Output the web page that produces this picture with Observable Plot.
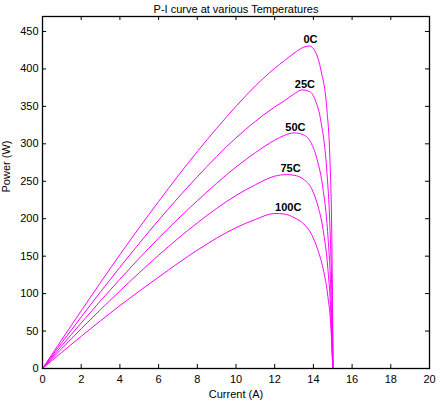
<!DOCTYPE html>
<html>
<head>
<meta charset="utf-8">
<script src="https://cdn.jsdelivr.net/npm/d3@7"></script>
<script src="https://cdn.jsdelivr.net/npm/@observablehq/plot@0.6"></script>
<style>
  html, body { margin: 0; padding: 0; background: #fff; }
  #chart svg { display: block; }
</style>
</head>
<body>
<div id="chart"></div>
<script>
// P-I curves of a PV module at several cell temperatures
const temperatures = ["0C", "25C", "50C", "75C", "100C"];

const current0C = [0, 2, 4, 6, 8, 10, 11, 12, 12.5, 13, 13.5, 13.8, 14.1, 14.4, 14.7, 14.85, 14.95, 15.02];
const power0C   = [0, 77, 152, 223, 289.6, 350, 377.3, 400.8, 411, 421, 429, 430.6, 423, 397, 345, 282, 179, 0];

const current25C = [0, 2, 4, 6, 8, 10, 11, 12, 12.5, 13, 13.4, 13.8, 14.1, 14.4, 14.7, 14.85, 14.95, 15.02];
const power25C   = [0, 68.8, 135.2, 198, 256, 308, 330, 349.2, 357.5, 366.6, 371.9, 369.8, 358.1, 328.3, 261.7, 193, 104.7, 0];

const current50C = [0, 2, 4, 6, 8, 10, 11, 12, 12.5, 13, 13.5, 13.9, 14.2, 14.5, 14.75, 14.9, 15.0];
const power50C   = [0, 60.8, 119.2, 174, 224, 269, 288.2, 304.8, 311.25, 314.6, 311.85, 300.2, 278.3, 239.25, 177, 104.3, 0];

const current75C = [0, 2, 4, 6, 8, 10, 11, 12, 12.6, 13, 13.5, 13.9, 14.2, 14.5, 14.75, 14.9, 15.0];
const power75C   = [0, 53, 103.6, 151.2, 194.4, 231, 245.3, 256.8, 258.9, 258, 252.5, 240.5, 220, 185.6, 132.75, 74.5, 0];

const current100C = [0, 2, 4, 6, 8, 10, 11, 12, 12.5, 13, 13.5, 13.9, 14.2, 14.5, 14.75, 14.9, 15.0];
const power100C   = [0, 43, 84, 122, 158, 188, 199, 207, 206.25, 201.5, 193, 179.3, 160.5, 133.4, 95.9, 56.6, 0];

// curve annotations (current, power) next to each maximum
const labelCurrent = [13.85, 13.56, 13.07, 12.82, 12.70];
const labelPower   = [439.5, 379, 322, 267, 215];

const xTicks = [0, 2, 4, 6, 8, 10, 12, 14, 16, 18, 20];
const yTicks = [0, 50, 100, 150, 200, 250, 300, 350, 400, 450];

const seriesCurrents = [current0C, current25C, current50C, current75C, current100C];
const seriesPowers = [power0C, power25C, power50C, power75C, power100C];

const rows = temperatures.flatMap((t, k) =>
  seriesCurrents[k].map((c, i) => ({temperature: t, current: c, power: seriesPowers[k][i]}))
);
const labels = temperatures.map((t, k) => ({temperature: t, current: labelCurrent[k], power: labelPower[k]}));

const W = 440, H = 404;
const mL = 42, mR = 11, mT = 16, mB = 36;
const innerW = W - mL - mR, innerH = H - mT - mB;
const tick = 4;

const chart = Plot.plot({
  width: W,
  height: H,
  marginLeft: mL,
  marginRight: mR,
  marginTop: mT,
  marginBottom: mB,
  style: {fontFamily: "'Liberation Sans', Arial, sans-serif", fontSize: "11px", color: "#000", background: "#fff"},
  x: {domain: [0, 20], ticks: xTicks},
  y: {domain: [0, 470], ticks: yTicks},
  marks: [
    Plot.lineY(rows, {x: "current", y: "power", z: "temperature", stroke: "#f0f", strokeWidth: 1, curve: "monotone-x"}),
    // inward ticks on all four sides
    Plot.tickX(xTicks, {x: d => d, insetTop: innerH - tick, stroke: "#000"}),
    Plot.tickX(xTicks, {x: d => d, insetBottom: innerH - tick, stroke: "#000"}),
    Plot.tickY(yTicks, {y: d => d, insetRight: innerW - tick, stroke: "#000"}),
    Plot.tickY(yTicks, {y: d => d, insetLeft: innerW - tick, stroke: "#000"}),
    Plot.axisX({ticks: xTicks, tickSize: 0, tickPadding: 7, label: null, fontSize: 11}),
    Plot.axisY({ticks: yTicks, tickSize: 0, tickPadding: 4, label: null, fontSize: 11}),
    Plot.frame({stroke: "#000", strokeWidth: 1.3}),
    Plot.text(labels, {x: "current", y: "power", text: "temperature", fill: "#000", fontWeight: "bold", fontSize: 11}),
    Plot.text(["Current (A)"], {text: d => d, frameAnchor: "bottom", dy: 29, fill: "#000", fontSize: 11}),
    Plot.text(["Power (W)"], {text: d => d, frameAnchor: "left", dx: -36, rotate: -90, fill: "#000", fontSize: 11}),
    Plot.text(["P-I curve at various Temperatures"], {text: d => d, frameAnchor: "top", dy: -11, fill: "#000", fontSize: 11})
  ]
});

document.getElementById("chart").appendChild(chart);
</script>
</body>
</html>
